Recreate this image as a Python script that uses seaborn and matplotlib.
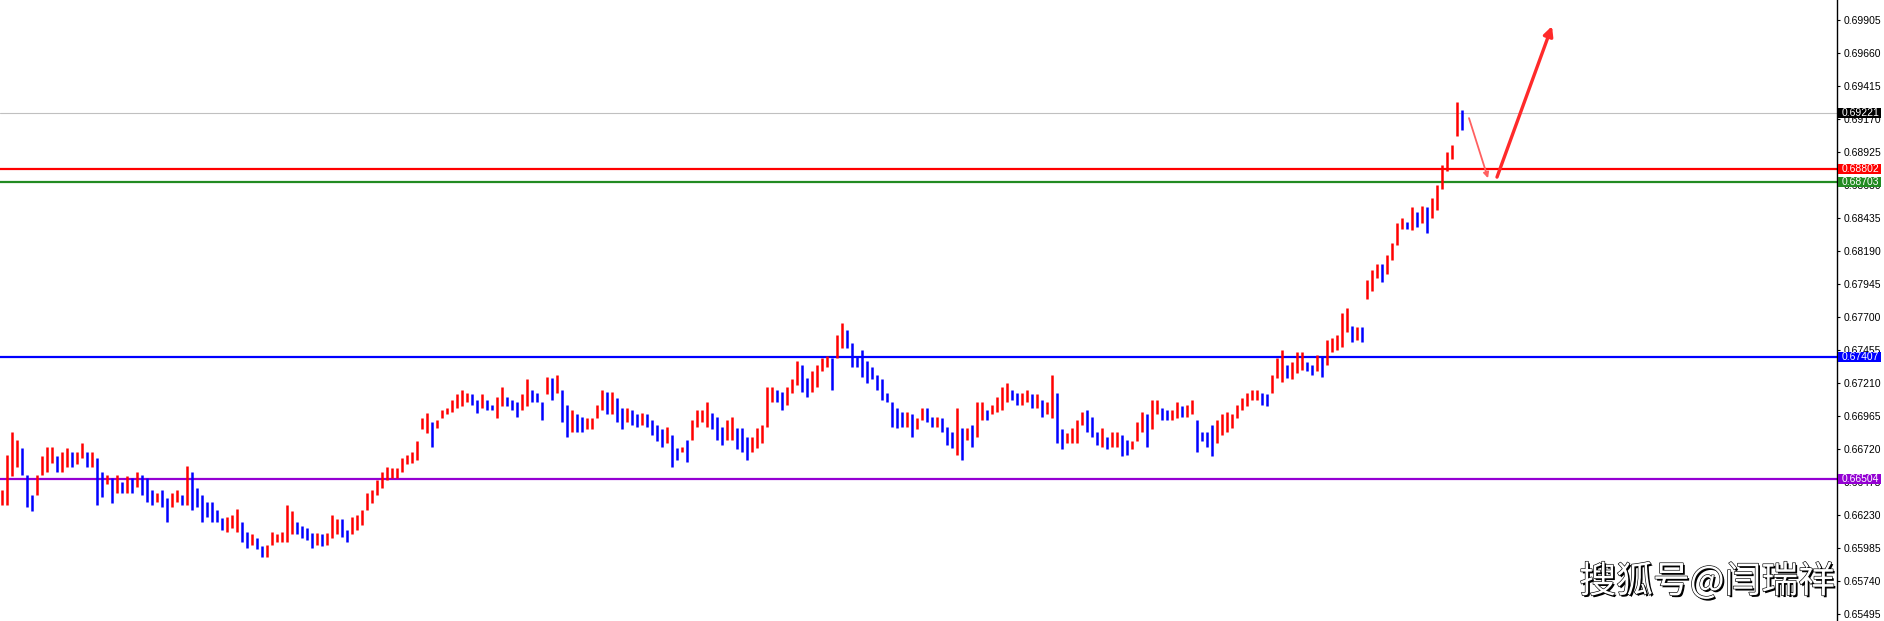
import matplotlib
matplotlib.use("Agg")
import matplotlib.pyplot as plt
import matplotlib.patheffects as pe
from matplotlib.patches import Rectangle
import numpy as np
import seaborn as sns

# bar highs / lows, in units of 0.0001
highs = [
    6642, 6668, 6685, 6679, 6673, 6653, 6638, 6653, 6667, 6674, 6674, 6667, 6670, 6673, 6670, 6670, 6677, 6670, 6670, 6666,
    6655, 6653, 6651, 6653, 6648, 6652, 6651, 6655, 6653, 6651, 6642, 6640, 6642, 6636, 6640, 6642, 6638, 6660, 6655, 6643,
    6638, 6633, 6633, 6627, 6621, 6622, 6623, 6628, 6618, 6611, 6609, 6606, 6600, 6601, 6611, 6609, 6611, 6631, 6626, 6618,
    6615, 6614, 6610, 6610, 6609, 6610, 6623, 6620, 6620, 6612, 6622, 6623, 6627, 6640, 6642, 6649, 6655, 6659, 6658, 6658,
    6666, 6668, 6670, 6678, 6695, 6699, 6692, 6694, 6701, 6703, 6709, 6713, 6716, 6714, 6713, 6709, 6713, 6709, 6705, 6711,
    6718, 6711, 6709, 6707, 6713, 6724, 6716, 6714, 6707, 6726, 6725, 6727, 6716, 6705, 6701, 6698, 6696, 6695, 6695, 6705,
    6716, 6715, 6715, 6710, 6703, 6703, 6701, 6698, 6699, 6698, 6694, 6690, 6687, 6689, 6683, 6673, 6674, 6679, 6694, 6701,
    6701, 6707, 6699, 6696, 6689, 6694, 6696, 6688, 6688, 6681, 6681, 6688, 6690, 6718, 6718, 6716, 6715, 6718, 6724, 6738,
    6735, 6725, 6730, 6735, 6740, 6741, 6740, 6757, 6766, 6761, 6751, 6741, 6746, 6738, 6733, 6727, 6724, 6714, 6707, 6703,
    6700, 6700, 6698, 6695, 6703, 6703, 6696, 6696, 6695, 6689, 6685, 6703, 6688, 6688, 6690, 6707, 6707, 6701, 6705, 6711,
    6718, 6721, 6716, 6714, 6714, 6716, 6713, 6713, 6709, 6707, 6727, 6714, 6687, 6684, 6688, 6694, 6700, 6701, 6696, 6685,
    6688, 6681, 6685, 6685, 6683, 6679, 6678, 6692, 6700, 6698, 6709, 6709, 6703, 6701, 6701, 6707, 6704, 6705, 6709, 6694,
    6685, 6685, 6690, 6694, 6698, 6700, 6698, 6705, 6710, 6714, 6716, 6716, 6714, 6713, 6727, 6740, 6746, 6735, 6737, 6744,
    6744, 6737, 6735, 6742, 6741, 6753, 6755, 6757, 6773, 6777, 6764, 6763, 6763, 6798, 6805, 6810, 6810, 6816, 6825, 6840,
    6844, 6841, 6852, 6848, 6853, 6852, 6859, 6868, 6883, 6893, 6898, 6930, 6924,
]
lows = [
    6631, 6631, 6652, 6659, 6653, 6629, 6626, 6638, 6653, 6655, 6662, 6655, 6655, 6659, 6659, 6661, 6666, 6659, 6659, 6631,
    6637, 6646, 6632, 6640, 6640, 6640, 6640, 6644, 6638, 6633, 6631, 6633, 6629, 6618, 6629, 6633, 6631, 6631, 6627, 6629,
    6618, 6622, 6618, 6618, 6612, 6611, 6614, 6611, 6603, 6599, 6601, 6598, 6592, 6592, 6601, 6603, 6603, 6603, 6609, 6609,
    6606, 6605, 6599, 6601, 6600, 6601, 6606, 6609, 6607, 6603, 6609, 6612, 6616, 6627, 6632, 6638, 6643, 6649, 6651, 6651,
    6655, 6661, 6662, 6664, 6687, 6684, 6674, 6688, 6695, 6698, 6700, 6703, 6704, 6707, 6705, 6699, 6703, 6701, 6701, 6695,
    6704, 6704, 6701, 6696, 6701, 6704, 6707, 6707, 6694, 6713, 6709, 6714, 6692, 6681, 6685, 6685, 6685, 6687, 6687, 6695,
    6701, 6698, 6698, 6692, 6687, 6692, 6690, 6689, 6690, 6689, 6683, 6678, 6674, 6677, 6659, 6664, 6670, 6663, 6679, 6689,
    6692, 6689, 6687, 6679, 6675, 6679, 6679, 6672, 6670, 6664, 6670, 6673, 6677, 6689, 6707, 6707, 6701, 6705, 6714, 6720,
    6715, 6711, 6715, 6718, 6730, 6733, 6716, 6740, 6747, 6747, 6733, 6733, 6726, 6721, 6724, 6716, 6709, 6707, 6689, 6688,
    6689, 6689, 6681, 6687, 6694, 6692, 6689, 6689, 6685, 6675, 6673, 6668, 6664, 6679, 6674, 6681, 6694, 6694, 6698, 6700,
    6701, 6707, 6709, 6705, 6705, 6707, 6703, 6703, 6696, 6698, 6695, 6677, 6672, 6677, 6677, 6677, 6690, 6685, 6681, 6675,
    6674, 6672, 6674, 6674, 6667, 6668, 6672, 6678, 6685, 6674, 6687, 6698, 6694, 6694, 6694, 6695, 6696, 6696, 6698, 6670,
    6678, 6674, 6667, 6677, 6683, 6685, 6688, 6695, 6701, 6704, 6709, 6709, 6705, 6704, 6714, 6725, 6722, 6725, 6724, 6729,
    6731, 6730, 6727, 6730, 6726, 6735, 6744, 6746, 6748, 6759, 6752, 6753, 6752, 6784, 6790, 6799, 6796, 6802, 6813, 6824,
    6836, 6836, 6835, 6837, 6840, 6833, 6844, 6850, 6865, 6879, 6888, 6905, 6909,
]

tick_labels = ["0.69905", "0.69660", "0.69415", "0.69170", "0.68925", "0.68680", "0.68435",
               "0.68190", "0.67945", "0.67700", "0.67455", "0.67210", "0.66965", "0.66720",
               "0.66475", "0.66230", "0.65985", "0.65740", "0.65495"]

levels = [0.68802, 0.68703, 0.67407, 0.66504]
level_colors = ["#FF0000", "#228B22", "#0000FF", "#9400D3"]
last_price = 0.69221

# hand-drawn forecast arrows: (bar position, price)
arrow_down = [(293.4, 0.69180), (297.2, 0.68734)]
arrow_up = [(299.0, 0.68742), (310.0, 0.69863)]

watermark = "搜狐号@闫瑞祥"

sns.set_style("white")
plt.rcParams["font.family"] = ["Liberation Sans", "DejaVu Sans"]

hi = np.array(highs) / 10000
lo = np.array(lows) / 10000
x = np.arange(len(hi))
mid = (hi + lo) / 2
up = np.r_[True, mid[1:] >= mid[:-1]]
colors = np.where(up, "#FF0000", "#0000FF")

fig = plt.figure(figsize=(18.84, 6.21), dpi=100)
ax = fig.add_axes([0, 0, 1837 / 1884, 1])

ax.vlines(x, lo, hi, colors=colors, linewidth=1.8, zorder=3)

ax.axhline(last_price, color="#C0C0C0", linewidth=0.8, zorder=1)
for lv, c in zip(levels, level_colors):
    ax.axhline(lv, color=c, linewidth=1.6, zorder=2)

ax.annotate("", xy=arrow_down[1], xytext=arrow_down[0],
            arrowprops=dict(arrowstyle="-|>", color="#FF6060", lw=1.3, mutation_scale=8,
                            shrinkA=0, shrinkB=0), zorder=4)
ax.annotate("", xy=arrow_up[1], xytext=arrow_up[0],
            arrowprops=dict(arrowstyle="-|>", color="#FF2A2A", lw=2.4, mutation_scale=14,
                            shrinkA=0, shrinkB=0), zorder=4)

ax.set_xlim(-0.4, 367.0)
ax.set_ylim(0.65446, 0.70057)

ticks = [float(t) for t in tick_labels]
ax.set_yticks(ticks)
ax.set_yticklabels(tick_labels)
ax.yaxis.tick_right()
ax.tick_params(axis="y", direction="out", length=2.5, width=0.8, pad=2,
               labelsize=7.5, colors="black")
ax.set_xticks([])
for s in ["top", "bottom", "left"]:
    ax.spines[s].set_visible(False)
ax.spines["right"].set_color("black")
ax.spines["right"].set_linewidth(1.0)

# price boxes on the axis
trans = ax.get_yaxis_transform()
half = 5 * (0.70057 - 0.65446) / 621
box_w = 43 / 1837
for price, c in [(last_price, "black")] + list(zip(levels, level_colors)):
    ax.add_patch(Rectangle((1.0 + 1 / 1837, price - half), box_w, 2 * half, transform=trans,
                           facecolor=c, edgecolor="none", clip_on=False, zorder=10))
    ax.text(1.0 + 5 / 1837, price, f"{price:.5f}", transform=trans, color="white",
            fontsize=7.5, ha="left", va="center", clip_on=False, zorder=11)

fig.text(1707 / 1884, 1 - 582 / 621, watermark, ha="center", va="center", fontsize=26.5,
         color="white", family=["Noto Sans CJK SC", "DejaVu Sans"],
         path_effects=[pe.SimplePatchShadow(offset=(1.3, -1.3), shadow_rgbFace="black", alpha=1),
                       pe.Stroke(linewidth=0.9, foreground="black"), pe.Normal()])

fig.savefig("out.png", dpi=100, facecolor="white")
